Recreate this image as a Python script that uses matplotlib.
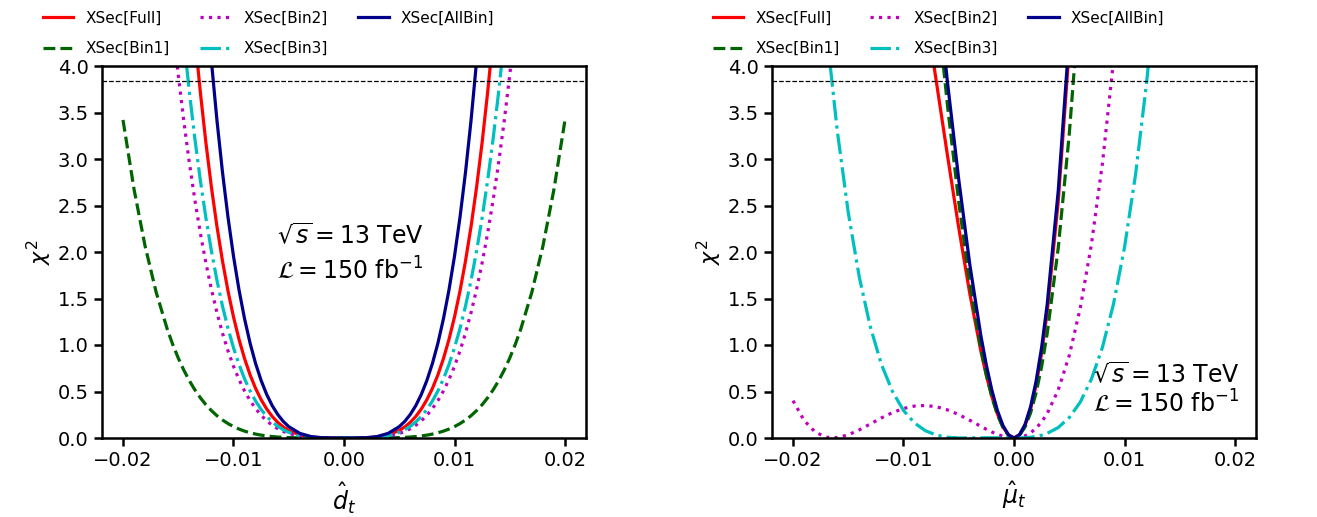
import matplotlib
matplotlib.use("Agg")
import matplotlib.pyplot as plt

# ---------------- data ----------------
labels = ["XSec[Full]", "XSec[Bin1]", "XSec[Bin2]", "XSec[Bin3]", "XSec[AllBin]"]

# Left panel: chi^2 vs d_t
dt = [-0.020, -0.019, -0.018, -0.017, -0.016, -0.0155, -0.015, -0.0145, -0.014, -0.0135,
      -0.013, -0.0125, -0.012, -0.0115, -0.011, -0.0105, -0.010, -0.0095, -0.009, -0.0085,
      -0.008, -0.0075, -0.007, -0.0065, -0.006, -0.0055, -0.005, -0.004, -0.003, -0.002,
      -0.001, 0.000, 0.001, 0.002, 0.003, 0.004, 0.005, 0.0055, 0.006, 0.0065,
      0.007, 0.0075, 0.008, 0.0085, 0.009, 0.0095, 0.010, 0.0105, 0.011, 0.0115,
      0.012, 0.0125, 0.013, 0.0135, 0.014, 0.0145, 0.015, 0.0155, 0.016, 0.017,
      0.018, 0.019, 0.020]
dt_full = [20.83, 16.96, 13.66, 10.87, 8.531, 7.513, 6.590, 5.754, 5.001, 4.324,
           3.718, 3.178, 2.699, 2.277, 1.906, 1.582, 1.302, 1.060, 0.854, 0.6795,
           0.533, 0.4119, 0.3125, 0.2324, 0.1687, 0.1191, 0.0814, 0.0333, 0.0105, 0.0021,
           0.0001, 0.0, 0.0001, 0.0021, 0.0105, 0.0333, 0.0814, 0.1191, 0.1687, 0.2324,
           0.3125, 0.4119, 0.533, 0.6795, 0.854, 1.060, 1.302, 1.582, 1.906, 2.277,
           2.699, 3.178, 3.718, 4.324, 5.001, 5.754, 6.590, 7.513, 8.531, 10.87,
           13.66, 16.96, 20.83]
dt_bin1 = [3.42, 2.674, 2.063, 1.568, 1.172, 1.006, 0.860, 0.7306, 0.617, 0.5185,
           0.4325, 0.3583, 0.2945, 0.2401, 0.194, 0.1552, 0.1228, 0.096, 0.074, 0.0563,
           0.0421, 0.0309, 0.0222, 0.0155, 0.0106, 0.007, 0.0044, 0.0015, 0.0004, 0.0001,
           0.0, 0.0, 0.0, 0.0001, 0.0004, 0.0015, 0.0044, 0.007, 0.0106, 0.0155,
           0.0222, 0.0309, 0.0421, 0.0563, 0.074, 0.096, 0.1228, 0.1552, 0.194, 0.2401,
           0.2945, 0.3583, 0.4325, 0.5185, 0.617, 0.7306, 0.860, 1.006, 1.172, 1.568,
           2.063, 2.674, 3.42]
dt_bin2 = [12.34, 10.05, 8.098, 6.443, 5.056, 4.453, 3.905, 3.410, 2.964, 2.562,
           2.203, 1.883, 1.600, 1.349, 1.1295, 0.9377, 0.7715, 0.6283, 0.506, 0.4027,
           0.316, 0.2441, 0.1852, 0.1377, 0.100, 0.0706, 0.0482, 0.0197, 0.0062, 0.0012,
           0.0001, 0.0, 0.0001, 0.0012, 0.0062, 0.0197, 0.0482, 0.0706, 0.100, 0.1377,
           0.1852, 0.2441, 0.316, 0.4027, 0.506, 0.6283, 0.7715, 0.9377, 1.1295, 1.349,
           1.600, 1.883, 2.203, 2.562, 2.964, 3.410, 3.905, 4.453, 5.056, 6.443,
           8.098, 10.05, 12.34]
dt_bin3 = [15.52, 12.64, 10.18, 8.102, 6.357, 5.599, 4.911, 4.288, 3.727, 3.222,
           2.771, 2.368, 2.012, 1.697, 1.420, 1.179, 0.970, 0.790, 0.6364, 0.5064,
           0.3973, 0.3069, 0.2329, 0.1732, 0.1257, 0.0888, 0.0606, 0.0248, 0.0079, 0.0016,
           0.0001, 0.0, 0.0001, 0.0016, 0.0079, 0.0248, 0.0606, 0.0888, 0.1257, 0.1732,
           0.2329, 0.3069, 0.3973, 0.5064, 0.6364, 0.790, 0.970, 1.179, 1.420, 1.697,
           2.012, 2.368, 2.771, 3.222, 3.727, 4.288, 4.911, 5.599, 6.357, 8.102,
           10.18, 12.64, 15.52]
dt_allbin = [31.28, 25.48, 20.52, 16.33, 12.81, 11.28, 9.897, 8.642, 7.510, 6.493,
             5.584, 4.773, 4.054, 3.419, 2.862, 2.376, 1.955, 1.592, 1.2826, 1.0205,
             0.8007, 0.6186, 0.4694, 0.349, 0.2534, 0.1789, 0.1222, 0.050, 0.0158, 0.0031,
             0.0002, 0.0, 0.0002, 0.0031, 0.0158, 0.050, 0.1222, 0.1789, 0.2534, 0.349,
             0.4694, 0.6186, 0.8007, 1.0205, 1.2826, 1.592, 1.955, 2.376, 2.862, 3.419,
             4.054, 4.773, 5.584, 6.493, 7.510, 8.642, 9.897, 11.28, 12.81, 16.33,
             20.52, 25.48, 31.28]

# Right panel: chi^2 vs mu_t
mu = [-0.020, -0.019, -0.018, -0.017, -0.016, -0.015, -0.014, -0.013, -0.012, -0.011,
      -0.010, -0.009, -0.008, -0.007, -0.006, -0.005, -0.004, -0.003, -0.0025, -0.002,
      -0.0015, -0.001, -0.0005, 0.0, 0.0005, 0.001, 0.0015, 0.002, 0.0025, 0.003,
      0.004, 0.005, 0.006, 0.007, 0.008, 0.009, 0.010, 0.011, 0.012, 0.013,
      0.014, 0.015, 0.016, 0.017, 0.018, 0.019, 0.020]
mu_full = [7.571, 7.955, 8.223, 8.369, 8.391, 8.286, 8.059, 7.714, 7.259, 6.704,
           6.064, 5.355, 4.596, 3.810, 3.022, 2.259, 1.552, 0.935, 0.6714, 0.444,
           0.258, 0.1184, 0.0305, 0.0, 0.0325, 0.1338, 0.3101, 0.5675, 0.9124, 1.3515,
           2.539, 4.187, 6.354, 9.102, 12.49, 16.60, 21.49, 27.24, 33.92, 41.61,
           50.39, 60.35, 71.58, 84.16, 98.20, 113.8, 131.0]
mu_bin1 = [25.81, 24.09, 22.34, 20.59, 18.83, 17.08, 15.34, 13.64, 11.98, 10.37,
           8.820, 7.353, 5.977, 4.705, 3.554, 2.536, 1.667, 0.9628, 0.6774, 0.4392,
           0.2503, 0.1127, 0.0285, 0.0, 0.0293, 0.1185, 0.270, 0.486, 0.7688, 1.1206,
           2.041, 3.266, 4.816, 6.710, 8.969, 11.61, 14.67, 18.15, 22.08, 26.48,
           31.38, 36.80, 42.77, 49.30, 56.43, 64.18, 72.57]
mu_bin2 = [0.4015, 0.189, 0.0642, 0.0081, 0.0032, 0.0342, 0.0874, 0.1513, 0.2159, 0.2732,
           0.3172, 0.3435, 0.3497, 0.3353, 0.3015, 0.2516, 0.1905, 0.1251, 0.0935, 0.0642,
           0.0387, 0.0184, 0.0049, 0.0, 0.0055, 0.0234, 0.0558, 0.1049, 0.1729, 0.2623,
           0.5156, 0.8866, 1.3988, 2.0777, 2.9507, 4.0469, 5.397, 7.035, 8.994, 11.31,
           14.03, 17.18, 20.81, 24.97, 29.69, 35.03, 41.04]
mu_bin3 = [9.389, 7.416, 5.770, 4.413, 3.309, 2.425, 1.7297, 1.1942, 0.7925, 0.5004,
           0.2962, 0.1608, 0.0769, 0.0301, 0.008, 0.0006, 0.0004, 0.0019, 0.0024, 0.0024,
           0.002, 0.0012, 0.0004, 0.0, 0.0006, 0.0029, 0.0079, 0.0164, 0.0298, 0.0493,
           0.1125, 0.2197, 0.3865, 0.6312, 0.9742, 1.4383, 2.0487, 2.8329, 3.8207, 5.0443,
           6.538, 8.340, 10.49, 13.02, 15.99, 19.44, 23.41]
mu_allbin = [17.65, 17.20, 16.62, 15.92, 15.11, 14.19, 13.19, 12.10, 10.95, 9.761,
             8.541, 7.312, 6.098, 4.920, 3.805, 2.778, 1.866, 1.101, 0.7826, 0.5126,
             0.295, 0.1341, 0.0343, 0.0, 0.0358, 0.1464, 0.3365, 0.611, 0.9749, 1.4332,
             2.6539, 4.3157, 6.4627, 9.141, 12.40, 16.28, 20.84, 26.14, 32.22, 39.13,
             46.95, 55.72, 65.51, 76.37, 88.38, 101.6, 116.1]

cl95 = 3.84
yticks = [0.0, 0.5, 1.0, 1.5, 2.0, 2.5, 3.0, 3.5, 4.0]
xticks = [-0.02, -0.01, 0.0, 0.01, 0.02]

# ---------------- styling ----------------
colors = ["red", "darkgreen", "m", "c", "darkblue"]
styles = ["-", "--", ":", "-.", "-"]

fig = plt.figure(figsize=(13.17, 5.17), dpi=100)
ax1 = fig.add_axes([102/1317, 1 - 438/517, 484/1317, 372/517])
ax2 = fig.add_axes([772/1317, 1 - 438/517, 484/1317, 372/517])

panels = [
    (ax1, dt, [dt_full, dt_bin1, dt_bin2, dt_bin3, dt_allbin], r"$\hat{d}_t$",
     (-0.00609, 2.17), (-0.00609, 1.80)),
    (ax2, mu, [mu_full, mu_bin1, mu_bin2, mu_bin3, mu_allbin], r"$\hat{\mu}_t$",
     (0.00716, 0.68), (0.00716, 0.37)),
]

for ax, xs, series, xlab, t1, t2 in panels:
    for ys, lab, c, ls in zip(series, labels, colors, styles):
        ax.plot(xs, ys, color=c, ls=ls, lw=2.3, label=lab)
    ax.axhline(cl95, color="black", ls="--", lw=0.9)
    ax.set_xlim(-0.0219, 0.0219)
    ax.set_ylim(0, 4.0)
    ax.set_yticks(yticks)
    ax.set_yticklabels([f"{v:.1f}" for v in yticks])
    ax.set_xticks(xticks)
    ax.set_xticklabels([f"{v:.2f}".replace("-", "\u2212") if v != 0 else "0.00" for v in xticks])
    ax.tick_params(labelsize=14, width=1.8, length=6)
    for sp in ax.spines.values():
        sp.set_linewidth(1.8)
    ax.set_xlabel(xlab, fontsize=17, labelpad=7)
    ax.set_ylabel(r"$\chi^2$", fontsize=16, labelpad=3)
    ax.text(t1[0], t1[1], r"$\sqrt{s} = 13$ TeV", fontsize=17, ha="left", va="center")
    ax.text(t2[0], t2[1], r"$\mathcal{L} = 150$ fb$^{-1}$", fontsize=17, ha="left", va="center")
    ax.legend(ncol=3, loc="upper left", bbox_to_anchor=(-0.135, 1.165), frameon=False,
              fontsize=11, labelspacing=1.0, borderaxespad=0)

fig.savefig("out.png", dpi=100)
